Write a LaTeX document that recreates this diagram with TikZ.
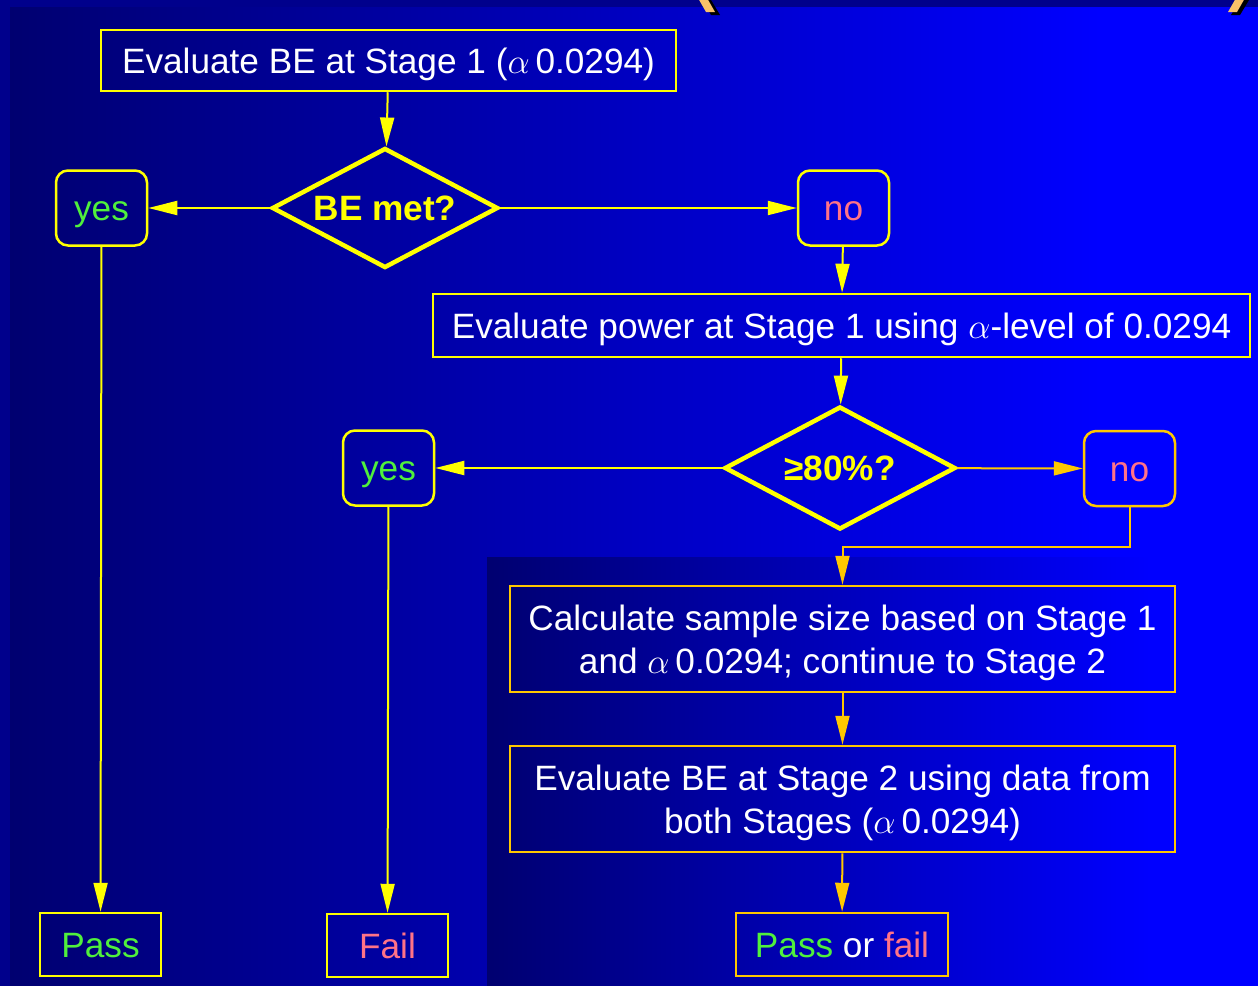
\RequirePackage{fix-cm}
\documentclass[tikz,border=0pt]{standalone}
\usepackage{fontspec}
\setmainfont{Liberation Sans}
\usetikzlibrary{shapes.geometric,arrows.meta,calc}

\definecolor{yl}{RGB}{255,255,0}
\definecolor{gd}{RGB}{255,200,0}
\definecolor{okgreen}{RGB}{80,240,60}
\definecolor{nopink}{RGB}{255,115,135}
\definecolor{deepnavy}{RGB}{0,0,112}
\definecolor{framenavy}{RGB}{0,0,140}
\definecolor{purblue}{RGB}{0,0,255}
\definecolor{tabcol}{RGB}{250,192,105}

\tikzset{
  txt/.style={font=\fontsize{35.2}{43}\selectfont, text=white},
  oneline/.style={text height=25pt, text depth=0pt},
  sqbox/.style={rectangle, draw=#1, line width=2.5pt, inner sep=0pt, align=center, txt},
  rdbox/.style={rectangle, rounded corners=12pt, draw=#1, line width=2.5pt, inner sep=0pt,
                minimum width=91pt, minimum height=75pt, txt, oneline},
  dia/.style={shape=diamond, draw=yl, line width=4.5pt, inner sep=0pt, aspect=1.88,
              font=\fontsize{35.2}{40}\selectfont\bfseries, text=yl, oneline},
  link/.style={draw=#1, line width=2pt, -{Triangle[length=29pt,width=14pt]}},
}

\begin{document}
\begin{tikzpicture}[x=1pt,y=-1pt]
\useasboundingbox (0,0) rectangle (1258,985);
% backdrop: outer frame, main panel and lower-right panel
\fill[framenavy] (-2,-2) rectangle (1260,990);
\shade[left color=deepnavy, right color=purblue] (10,7) rectangle (1100,990);
\fill[purblue] (1099,7) rectangle (1260,990);
\shade[left color=deepnavy, right color=purblue] (487,557) rectangle (1150,990);
\fill[purblue] (1149,557) rectangle (1260,990);

% title bracket tips along the top edge
\fill[black] (702,0) -- (711,0) -- (720,15) -- (711,15) -- cycle;
\fill[tabcol] (698,-2) -- (707,-2) -- (715,12) -- (706,12) -- cycle;
\fill[black] (1240,0) -- (1249,0) -- (1240,15) -- (1231,15) -- cycle;
\fill[tabcol] (1236,-2) -- (1245,-2) -- (1237,12) -- (1228,12) -- cycle;

% stage 1
\node[sqbox=yl, oneline, minimum width=575pt, minimum height=61pt] (s1) at (388.5,60.5)
  {Evaluate BE at Stage 1 ($\alpha\,$0.0294)};
\node[dia, minimum width=226pt, minimum height=120pt] (d1) at (385,208) {BE met?};
\node[rdbox=yl] (yes1) at (101.5,208) {\textcolor{okgreen}{yes}};
\node[rdbox=yl] (no1) at (843.5,208) {\textcolor{nopink}{no}};

% power check
\node[sqbox=yl, oneline, minimum width=817pt, minimum height=63pt] (p1) at (841.5,325.5)
  {Evaluate power at Stage 1 using $\alpha$-level of 0.0294};
\node[dia, minimum width=231pt, minimum height=123pt] (d2) at (840,468) {≥80\%?};
\node[rdbox=yl] (yes2) at (388.5,468) {\textcolor{okgreen}{yes}};
\node[rdbox=gd] (no2) at (1129.5,468.5) {\textcolor{nopink}{no}};

% stage 2: framed boxes, their two-line texts set just below centre
\node[sqbox=gd, minimum width=665pt, minimum height=106pt] (c3) at (842.5,639) {};
\node[txt, align=center, inner sep=0pt] (c3text) at ($(c3.center)+(0,4)$)
  {Calculate sample size based on Stage 1\\and $\alpha\,$0.0294; continue to Stage 2};
\node[sqbox=gd, minimum width=665pt, minimum height=106pt] (c4) at (842.5,799) {};
\node[txt, align=center, inner sep=0pt] (c4text) at ($(c4.center)+(0,4)$)
  {Evaluate BE at Stage 2 using data from\\both Stages ($\alpha\,$0.0294)};

% outcomes
\node[sqbox=yl, oneline, minimum width=121pt, minimum height=63pt] (pass) at (100.5,944.5)
  {\textcolor{okgreen}{Pass}};
\node[sqbox=yl, oneline, minimum width=121pt, minimum height=63pt] (fail) at (387.5,945.5)
  {\textcolor{nopink}{Fail}};
\node[sqbox=gd, oneline, minimum width=212pt, minimum height=63pt] (c5) at (842,944.5)
  {\textcolor{okgreen}{Pass} or \textcolor{nopink}{fail}};

% connectors
\draw[link=yl] (s1) -- (d1);
\draw[link=yl] (d1) -- (yes1);
\draw[link=yl] (d1) -- (no1);
\draw[link=yl] (no1) -- (p1);
\draw[link=yl] (p1) -- (d2);
\draw[link=yl] (d2) -- (yes2);
\draw[link=gd] (d2) -- (no2);
\draw[link=gd] (no2.south) -- ++(0,40) -| (c3.north);
\draw[link=gd] (c3) -- (c4);
\draw[link=gd] (c4) -- (c5);
\draw[link=yl] (yes1) -- (pass);
\draw[link=yl] (yes2) -- (fail);
\end{tikzpicture}
\end{document}
